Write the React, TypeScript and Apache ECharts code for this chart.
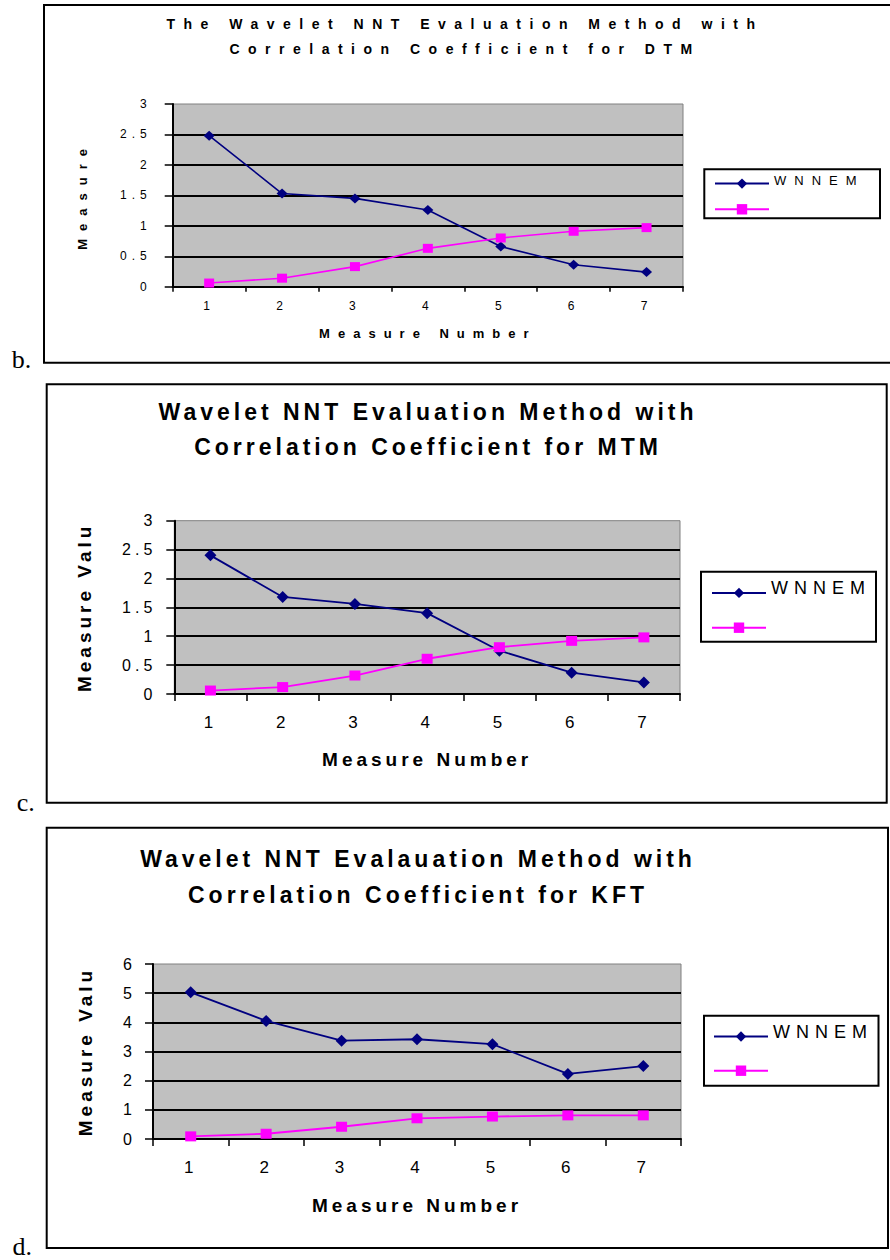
import React, { useEffect, useRef } from 'react';
import * as echarts from 'echarts';

// ---------- data ----------
const categories = ['1', '2', '3', '4', '5', '6', '7'];
const seriesNames = ['WNNEM', ' '];

const dtmWnnem = [2.48, 1.53, 1.45, 1.26, 0.66, 0.36, 0.24];
const dtmCorr = [0.06, 0.14, 0.33, 0.63, 0.8, 0.91, 0.97];

const mtmWnnem = [2.4, 1.68, 1.56, 1.4, 0.75, 0.37, 0.2];
const mtmCorr = [0.06, 0.12, 0.32, 0.61, 0.81, 0.92, 0.98];

const kftWnnem = [5.03, 4.05, 3.37, 3.42, 3.25, 2.23, 2.5];
const kftCorr = [0.09, 0.18, 0.42, 0.71, 0.77, 0.81, 0.81];

const titleB = ['The Wavelet NNT Evaluation Method with', 'Correlation Coefficient for DTM'];
const titleC = ['Wavelet NNT Evaluation Method with', 'Correlation Coefficient for MTM'];
const titleD = ['Wavelet NNT Evalauation Method with', 'Correlation Coefficient for KFT'];

const xAxisName = 'Measure Number';
const yAxisNameB = 'Measure';
const yAxisNameCD = 'Measure Valu';
const panelLabels = ['b.', 'c.', 'd.'];

// ---------- styles ----------
const SANS = '"Liberation Sans", Arial, Helvetica, sans-serif';
const SERIF = '"Liberation Serif", "Times New Roman", serif';
const NAVY = '#000080';
const MAGENTA = '#FF00FF';

type Panel = {
  title: string[];
  titleX: number;
  titleTop: number;
  titleSize: number;
  titleLH: number;
  label: string;
  labelX: number;
  labelY: number;
  frame: number[];
  grid: number[];
  yMax: number;
  yInterval: number;
  yLabelSize: number;
  yLabelMargin: number;
  xLabelSize: number;
  xLabelMargin: number;
  xTick: number;
  nameSize: number;
  xNameGap: number;
  yName: string;
  yNameGap: number;
  legendLeft: number;
  legendTop: number;
  legendGap: number;
  legendSize: number;
  legendTextPad: number;
  legendBox: number[];
  diamond: number[];
  square: number[];
  lineWidth: number;
  wnnem: number[];
  corr: number[];
};

function buildOption(p: Panel) {
  return {
    animation: false,
    title: {
      text: p.title.join('\n'),
      left: p.titleX,
      top: p.titleTop,
      textAlign: 'center',
      padding: 0,
      textStyle: {
        fontFamily: SANS,
        fontWeight: 'bold',
        fontSize: p.titleSize,
        lineHeight: p.titleLH,
        color: '#000',
      },
    },
    grid: {
      left: p.grid[0],
      top: p.grid[1],
      width: p.grid[2],
      height: p.grid[3],
      show: true,
      backgroundColor: '#C0C0C0',
      borderColor: '#808080',
      borderWidth: 1,
    },
    xAxis: {
      type: 'category',
      data: categories,
      boundaryGap: true,
      name: xAxisName,
      nameLocation: 'middle',
      nameGap: p.xNameGap,
      nameTextStyle: { fontFamily: SANS, fontWeight: 'bold', fontSize: p.nameSize, color: '#000' },
      axisLine: { lineStyle: { color: '#000', width: 2 } },
      axisTick: { show: true, interval: 0, length: p.xTick, lineStyle: { color: '#000', width: 1.5 } },
      axisLabel: { color: '#000', fontFamily: SANS, fontSize: p.xLabelSize, margin: p.xLabelMargin, interval: 0 },
      splitLine: { show: false },
    },
    yAxis: {
      type: 'value',
      min: 0,
      max: p.yMax,
      interval: p.yInterval,
      name: p.yName,
      nameLocation: 'middle',
      nameGap: p.yNameGap,
      nameTextStyle: { fontFamily: SANS, fontWeight: 'bold', fontSize: p.nameSize, color: '#000' },
      axisLine: { show: true, lineStyle: { color: '#000', width: 2 } },
      axisTick: { show: true, length: 8, lineStyle: { color: '#000', width: 1.5 } },
      axisLabel: { color: '#000', fontFamily: SANS, fontSize: p.yLabelSize, margin: p.yLabelMargin },
      splitLine: {
        show: true,
        showMaxLine: false,
        showMinLine: false,
        lineStyle: { color: '#000', width: 2 },
      },
    },
    legend: {
      orient: 'vertical',
      left: p.legendLeft,
      top: p.legendTop,
      padding: 0,
      itemWidth: 54,
      itemHeight: 13,
      itemGap: p.legendGap,
      selectedMode: false,
      data: seriesNames,
      formatter: (name: string) => `{t|${name}}`,
      textStyle: {
        fontFamily: SANS,
        fontSize: p.legendSize,
        color: '#000',
        rich: {
          t: {
            fontFamily: SANS,
            fontSize: p.legendSize,
            color: '#000',
            padding: [0, 0, p.legendTextPad, 0],
          },
        },
      },
    },
    graphic: [
      {
        type: 'rect',
        silent: true,
        z: 0,
        shape: { x: p.frame[0], y: p.frame[1], width: p.frame[2], height: p.frame[3] },
        style: { fill: 'none', stroke: '#000', lineWidth: 2 },
      },
      {
        type: 'rect',
        silent: true,
        z: 1,
        shape: { x: p.legendBox[0], y: p.legendBox[1], width: p.legendBox[2], height: p.legendBox[3] },
        style: { fill: '#fff', stroke: '#000', lineWidth: 2 },
      },
      {
        type: 'text',
        silent: true,
        x: p.labelX,
        y: p.labelY,
        style: {
          text: p.label,
          fontFamily: SERIF,
          fontSize: 26,
          fill: '#000',
          textAlign: 'left',
          textVerticalAlign: 'middle',
          align: 'left',
          verticalAlign: 'middle',
        },
      },
    ],
    series: [
      {
        name: seriesNames[0],
        type: 'line',
        data: p.wnnem,
        symbol: 'diamond',
        symbolSize: p.diamond,
        itemStyle: { color: NAVY },
        lineStyle: { color: NAVY, width: p.lineWidth },
      },
      {
        name: seriesNames[1],
        type: 'line',
        data: p.corr,
        symbol: 'rect',
        symbolSize: p.square,
        itemStyle: { color: MAGENTA },
        lineStyle: { color: MAGENTA, width: p.lineWidth },
      },
    ],
  };
}

const panelB: Panel = {
  title: titleB, titleX: 465, titleTop: 11.5, titleSize: 14, titleLH: 25,
  label: panelLabels[0], labelX: 11.7, labelY: 359,
  frame: [44, 5, 870, 357.7],
  grid: [172.7, 104, 510.3, 182.7],
  yMax: 3, yInterval: 0.5, yLabelSize: 12, yLabelMargin: 21,
  xLabelSize: 12, xLabelMargin: 13, xTick: 5,
  nameSize: 13, xNameGap: 40, yName: yAxisNameB, yNameGap: 84,
  legendLeft: 714, legendTop: 174.1, legendGap: 11, legendSize: 13, legendTextPad: 6,
  legendBox: [704.3, 169.3, 175.7, 49],
  diamond: [11, 10], square: [10, 9], lineWidth: 1.6,
  wnnem: dtmWnnem, corr: dtmCorr,
};

const panelC: Panel = {
  title: titleC, titleX: 428, titleTop: 19.5, titleSize: 23, titleLH: 35,
  label: panelLabels[1], labelX: 16.7, labelY: 427.7,
  frame: [46.7, 9.3, 840, 418.4],
  grid: [174.3, 145.7, 505.7, 173.3],
  yMax: 3, yInterval: 0.5, yLabelSize: 16, yLabelMargin: 18,
  xLabelSize: 17, xLabelMargin: 20, xTick: 7,
  nameSize: 19, xNameGap: 56, yName: yAxisNameCD, yNameGap: 80,
  legendLeft: 711, legendTop: 203.9, legendGap: 15.6, legendSize: 18, legendTextPad: 10,
  legendBox: [701, 196.7, 175, 70],
  diamond: [12, 12], square: [11, 10], lineWidth: 1.8,
  wnnem: mtmWnnem, corr: mtmCorr,
};

const panelD: Panel = {
  title: titleD, titleX: 418, titleTop: 26, titleSize: 23, titleLH: 36,
  label: panelLabels[2], labelX: 12.5, labelY: 431,
  frame: [46.7, 12.7, 841.3, 420.3],
  grid: [153, 149, 528, 175],
  yMax: 6, yInterval: 1, yLabelSize: 16, yLabelMargin: 17,
  xLabelSize: 17, xLabelMargin: 20, xTick: 7,
  nameSize: 19, xNameGap: 57, yName: yAxisNameCD, yNameGap: 58.5,
  legendLeft: 713, legendTop: 207.5, legendGap: 15, legendSize: 18, legendTextPad: 10,
  legendBox: [704, 200.7, 174.5, 70],
  diamond: [12, 12], square: [11, 10], lineWidth: 1.8,
  wnnem: kftWnnem, corr: kftCorr,
};

const css = `
#chartB text { letter-spacing: 8px; }
#chartB text[style*="14px"] { letter-spacing: 8.5px; }
#chartB text[style*="12px"] { letter-spacing: 5px; }
#chartC text, #chartD text { letter-spacing: 4px; }
#chartC text[style*="18px"], #chartD text[style*="18px"] { letter-spacing: 6px; }
#panels text[style*="26px"] { letter-spacing: 0px; }
`;

function ChartPanel({ id, top, height, panel }: { id: string; top: number; height: number; panel: Panel }) {
  const ref = useRef<HTMLDivElement>(null);
  useEffect(() => {
    if (!ref.current) return;
    const chart = echarts.init(ref.current, null, { renderer: 'svg' });
    chart.setOption(buildOption(panel) as any);
    return () => chart.dispose();
  }, [panel]);
  return (
    <div
      id={id}
      ref={ref}
      style={{ position: 'absolute', left: 0, top, width: 890, height }}
    />
  );
}

export default function App() {
  return (
    <div
      id="panels"
      style={{ position: 'absolute', left: 0, top: 0, width: 890, height: 1260, background: '#fff', overflow: 'hidden' }}
    >
      <style>{css}</style>
      <ChartPanel id="chartB" top={0} height={380} panel={panelB} />
      <ChartPanel id="chartC" top={375} height={445} panel={panelC} />
      <ChartPanel id="chartD" top={815} height={445} panel={panelD} />
    </div>
  );
}
